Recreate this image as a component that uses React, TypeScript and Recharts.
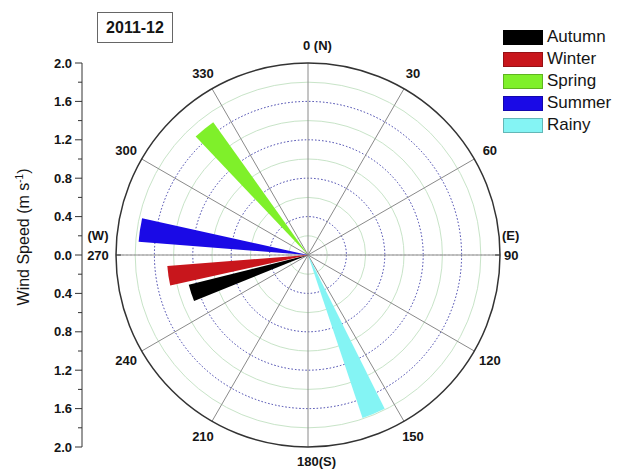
import React from 'react';
import {
  RadialBarChart,
  RadialBar,
  PolarAngleAxis,
  PolarRadiusAxis,
  PolarGrid,
  Legend,
  Cell,
  ComposedChart,
  XAxis,
  YAxis,
} from 'recharts';

const FONT = '"Liberation Sans", Arial, Helvetica, sans-serif';

// ---- data ----
const seasons = ['Autumn', 'Winter', 'Spring', 'Summer', 'Rainy'];
const directions = [252, 261.5, 320.5, 278.5, 157.5];
const speeds = [1.28, 1.47, 1.7, 1.77, 1.79];
const colors = ['#000000', '#c8161c', '#7ff02a', '#1a0ae6', '#84f4f4'];

const angleTicks = [0, 30, 60, 90, 120, 150, 180, 210, 240, 270, 300, 330];
const minorAngleTicks = [15, 45, 75, 105, 135, 165, 195, 225, 255, 285, 315, 345];
const majorRings = [0.4, 0.8, 1.2, 1.6];
const minorRings = [0.2, 0.6, 1.0, 1.4, 1.8];
const speedTicks = [2.0, 1.8, 1.6, 1.4, 1.2, 1.0, 0.8, 0.6, 0.4, 0.2, 0, -0.2, -0.4, -0.6, -0.8, -1.0, -1.2, -1.4, -1.6, -1.8, -2.0];
const compassNames: Record<number, string> = { 0: '(N)', 90: '(E)', 180: '(S)', 270: '(W)' };
const title = '2011-12';

const data = seasons.map((name, i) => ({ name, dir: directions[i], speed: speeds[i], fill: colors[i] }));

const labelStyle = { fontFamily: FONT, fontSize: 13, fontWeight: 700, fill: '#151515' } as const;

const renderAngleTick = (props: any) => {
  const { x, y, payload } = props;
  const v = payload.value;
  if (v === 0) {
    return (
      <text x={x - 5} y={y} dy="0.35em" textAnchor="start" {...labelStyle}>
        {`0 ${compassNames[0]}`}
      </text>
    );
  }
  if (v === 180) {
    return (
      <text x={x - 11} y={y - 4} dy="0.35em" textAnchor="start" {...labelStyle}>
        {`180${compassNames[180]}`}
      </text>
    );
  }
  if (v === 90) {
    return (
      <g>
        <text x={x - 16} y={y - 20} dy="0.35em" textAnchor="start" {...labelStyle}>{compassNames[90]}</text>
        <text x={x - 14} y={y} dy="0.35em" textAnchor="start" {...labelStyle}>{v}</text>
      </g>
    );
  }
  if (v === 270) {
    return (
      <g>
        <text x={x} y={y - 20} dy="0.35em" textAnchor="middle" {...labelStyle}>{compassNames[270]}</text>
        <text x={x} y={y} dy="0.35em" textAnchor="middle" {...labelStyle}>{v}</text>
      </g>
    );
  }
  return (
    <text x={x} y={y} dy="0.35em" textAnchor="middle" {...labelStyle}>
      {v}
    </text>
  );
};

const SpeedTick = (props: any) => {
  const { x, y, payload } = props;
  const v = payload.value;
  const major = Math.round(Math.abs(v) * 10) % 4 === 0;
  return (
    <g>
      <line x1={x - (major ? 7 : 4)} x2={x} y1={y} y2={y} stroke="#333" strokeWidth={1} />
      {major && (
        <text x={x - 10} y={y} dy="0.35em" textAnchor="end" {...labelStyle}>
          {Math.abs(v).toFixed(1)}
        </text>
      )}
    </g>
  );
};

const YLabel = (props: any) => {
  const vb = props.viewBox || { x: 0, y: 63, width: 82, height: 384 };
  const lx = 23;
  const ly = vb.y + vb.height / 2 - 18;
  return (
    <text
      x={lx}
      y={ly}
      transform={`rotate(-90 ${lx} ${ly})`}
      textAnchor="middle"
      dy="0.35em"
      fontFamily={FONT}
      fontSize={16}
      fill="#151515"
    >
      Wind Speed (m s
      <tspan dy={-6} fontSize={10}>-1</tspan>
      <tspan dy={6}>)</tspan>
    </text>
  );
};

const LegendContent = (props: any) => {
  const payload = [...(props.payload || [])].sort(
    (a: any, b: any) => seasons.indexOf(a.value) - seasons.indexOf(b.value)
  );
  return (
    <div style={{ fontFamily: FONT }}>
      {payload.map((p: any, i: number) => {
        const c = (p.payload && p.payload.fill) || p.color;
        return (
          <div key={i} style={{ display: 'flex', alignItems: 'center', height: 22 }}>
            <span
              style={{
                display: 'inline-block',
                width: 40,
                height: 15,
                background: c,
                border: '1px solid rgba(0,0,0,0.25)',
                boxSizing: 'border-box',
              }}
            />
            <span style={{ marginLeft: 4, fontSize: 17, color: '#151515', lineHeight: '22px' }}>{p.value}</span>
          </div>
        );
      })}
    </div>
  );
};

export default function App() {
  return (
    <div style={{ position: 'absolute', left: 0, top: 0, width: 617, height: 470, background: '#fff' }}>
      <div style={{ position: 'absolute', left: 0, top: 0 }}>
        <RadialBarChart
          width={617}
          height={470}
          cx={308}
          cy={255}
          innerRadius={0}
          outerRadius={192}
          startAngle={90}
          endAngle={-270}
          layout="centric"
          data={data}
          barSize={8}
          margin={{ top: 0, right: 0, bottom: 0, left: 0 }}
        >
          <PolarAngleAxis
            angleAxisId={0}
            type="number"
            dataKey="dir"
            domain={[0, 360]}
            ticks={angleTicks}
            allowDataOverflow
            tickSize={18}
            tickLine={false}
            axisLineType="circle"
            axisLine={{ stroke: '#333', strokeWidth: 1.5 }}
            tick={renderAngleTick}
          />
          <PolarAngleAxis
            angleAxisId="minor"
            type="number"
            domain={[0, 360]}
            ticks={minorAngleTicks}
            allowDataOverflow
            axisLine={false}
            tick={false}
            tickLine={{ stroke: '#333' }}
            orientation="inner"
            tickSize={5}
          />
          <PolarRadiusAxis radiusAxisId={0} type="number" domain={[0, 2]} ticks={majorRings} allowDataOverflow axisLine={false} tick={false} />
          <PolarRadiusAxis radiusAxisId="minor" type="number" domain={[0, 2]} ticks={minorRings} allowDataOverflow axisLine={false} tick={false} />
          <PolarGrid angleAxisId="minor" radiusAxisId="minor" gridType="circle" polarRadius={[]} stroke="#e6e6e6" strokeDasharray="2 2" />
          <PolarGrid angleAxisId="minor" radiusAxisId="minor" gridType="circle" radialLines={false} stroke="#c8e4c8" />
          <PolarGrid angleAxisId={0} radiusAxisId={0} gridType="circle" radialLines={false} stroke="#3a3aa8" strokeDasharray="1.5 2" />
          <PolarGrid angleAxisId={0} radiusAxisId={0} gridType="circle" polarRadius={[]} stroke="#8a8a8a" />
          <RadialBar angleAxisId={0} radiusAxisId={0} dataKey="speed" barSize={8} isAnimationActive={false}>
            {data.map((d, i) => (
              <Cell key={d.name} fill={colors[i]} />
            ))}
          </RadialBar>
          <Legend
            layout="vertical"
            align="right"
            verticalAlign="top"
            content={LegendContent}
            wrapperStyle={{ left: 503, top: 26, right: 'auto', width: 114 }}
          />
        </RadialBarChart>
      </div>
      <div style={{ position: 'absolute', left: 0, top: 0 }}>
        <ComposedChart width={90} height={470} data={[{ x: 0 }]} margin={{ top: 63, right: 0, bottom: 23, left: 0 }}>
          <XAxis dataKey="x" hide />
          <YAxis
            type="number"
            domain={[-2, 2]}
            ticks={speedTicks}
            allowDataOverflow
            interval={0}
            width={82}
            tickLine={false}
            tickSize={0}
            tickMargin={0}
            axisLine={{ stroke: '#333' }}
            tick={(p: any) => <SpeedTick {...p} />}
            label={<YLabel />}
          />
        </ComposedChart>
      </div>
      <div
        style={{
          position: 'absolute',
          left: 97,
          top: 12,
          width: 76,
          height: 31,
          boxSizing: 'border-box',
          border: '1px solid #666',
          display: 'flex',
          alignItems: 'center',
          justifyContent: 'center',
          fontFamily: FONT,
          fontWeight: 700,
          fontSize: 16,
          color: '#151515',
          background: '#fff',
        }}
      >
        {title}
      </div>
    </div>
  );
}
